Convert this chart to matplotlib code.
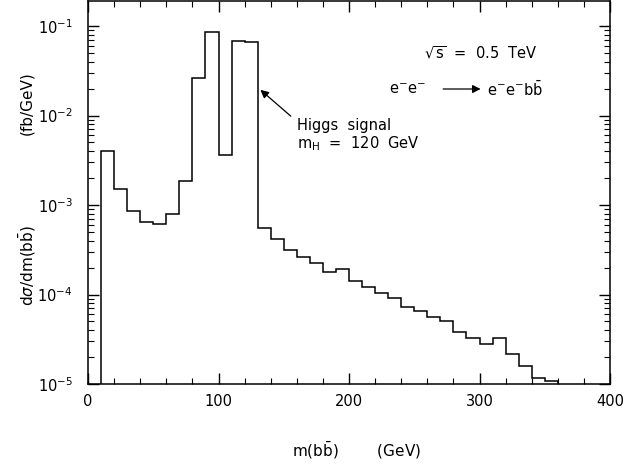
import matplotlib
matplotlib.use('Agg')
import matplotlib.pyplot as plt
import numpy as np
from matplotlib.ticker import LogLocator, MultipleLocator, NullFormatter

# bin edges in GeV (10 GeV bins from 10 to 360)
bin_edges = list(range(10, 361, 10))

# d sigma / d m(bb) in fb/GeV
dsigma = [
    4.05e-3, 1.53e-3, 8.6e-4, 6.46e-4, 6.1e-4, 7.9e-4, 1.84e-3, 2.6e-2, 8.5e-2, 3.6e-3,
    6.8e-2, 6.7e-2, 5.6e-4, 4.2e-4, 3.17e-4, 2.64e-4, 2.25e-4, 1.8e-4, 1.94e-4, 1.43e-4,
    1.2e-4, 1.04e-4, 9.2e-5, 7.3e-5, 6.5e-5, 5.56e-5, 5.0e-5, 3.84e-5, 3.27e-5, 2.78e-5,
    3.27e-5, 2.15e-5, 1.6e-5, 1.17e-5, 1.09e-5,
]

x_ticks = [0, 100, 200, 300, 400]

plt.rcParams['font.family'] = ['DejaVu Sans']
plt.rcParams['mathtext.fontset'] = 'dejavusans'

fig = plt.figure(figsize=(6.42, 4.67), dpi=100)
ax = fig.add_axes([0.1371, 0.1777, 0.8131, 0.8212])

ax.stairs(dsigma, bin_edges, baseline=1e-5, color='black', linewidth=1.1)

ax.set_yscale('log')
ax.set_xlim(0, 400)
ax.set_ylim(1e-5, 0.193)
ax.set_xticks(x_ticks)
ax.xaxis.set_minor_locator(MultipleLocator(20))
ax.yaxis.set_major_locator(LogLocator(base=10, numticks=10))
ax.yaxis.set_minor_locator(LogLocator(base=10, subs=np.arange(2, 10), numticks=20))
ax.yaxis.set_minor_formatter(NullFormatter())

ax.tick_params(which='both', direction='in', top=True, right=True, labelsize=10.5)
ax.tick_params(which='major', length=8, width=1)
ax.tick_params(which='minor', length=4, width=0.8)
ax.tick_params(axis='y', which='major', pad=11)
ax.tick_params(axis='x', which='major', pad=7)
for s in ax.spines.values():
    s.set_linewidth(1.1)

# axis labels
ax.text(0.515, -0.172, r'm$(\mathrm{b\bar{b}})$        (GeV)', transform=ax.transAxes,
        ha='center', va='center', fontsize=11)
ax.text(-0.117, 0.732, '(fb/GeV)', transform=ax.transAxes, rotation=90,
        ha='center', va='center', fontsize=11)
ax.text(-0.117, 0.309, r'd$\sigma$/dm$(\mathrm{b\bar{b}})$', transform=ax.transAxes,
        rotation=90, ha='center', va='center', fontsize=11)

# annotations
ax.text(345, 0.05, r'$\sqrt{\mathrm{s}}$  =  0.5  TeV', ha='right', va='center', fontsize=10.5)
ax.text(231, 0.0198, r'e$^{-}$e$^{-}$', ha='left', va='center', fontsize=10.5)
ax.annotate('', xy=(303, 0.0198), xytext=(270, 0.0198),
            arrowprops=dict(arrowstyle='-|>', color='black', lw=0.9, mutation_scale=12))
ax.text(306, 0.0198, r'e$^{-}$e$^{-}$b$\mathrm{\bar{b}}$', ha='left', va='center', fontsize=10.5)

ax.annotate('', xy=(130.5, 0.0203), xytext=(157, 9.4e-3),
            arrowprops=dict(arrowstyle='-|>', color='black', lw=0.9, mutation_scale=12))
ax.text(160, 7.8e-3, 'Higgs  signal', ha='left', va='center', fontsize=10.5)
ax.text(160, 4.9e-3, r'm$_{\mathrm{H}}$  =  120  GeV', ha='left', va='center', fontsize=10.5)

fig.savefig('out.png', dpi=100)
